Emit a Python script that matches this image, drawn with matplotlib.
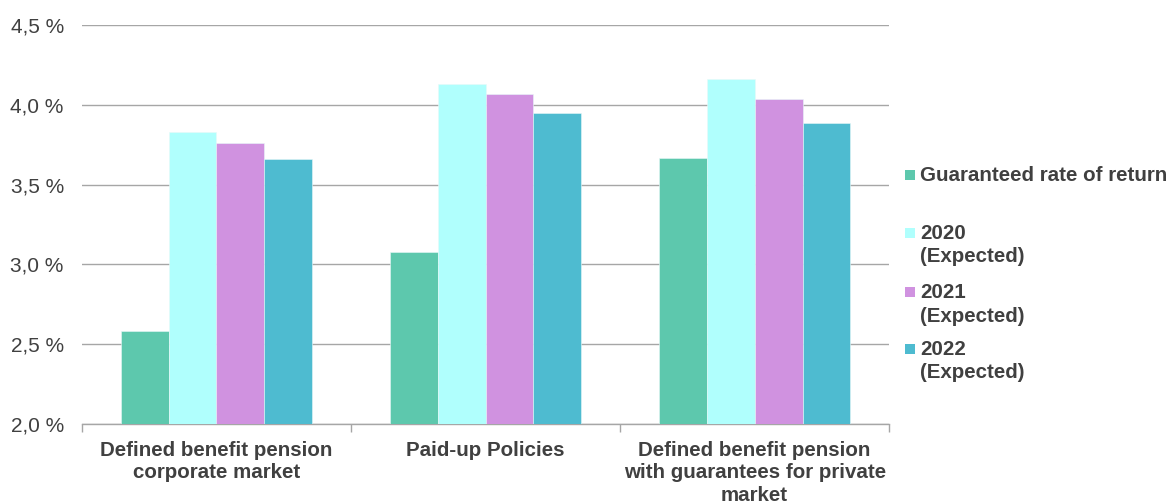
import matplotlib
matplotlib.use("Agg")
import matplotlib.pyplot as plt
import numpy as np
from matplotlib.patches import Rectangle
from matplotlib.ticker import FixedLocator

categories = ["Defined benefit pension\ncorporate market",
              "Paid-up Policies",
              "Defined benefit pension\nwith guarantees for private\nmarket"]
series_names = ["Guaranteed rate of return", "2020\n(Expected)", "2021\n(Expected)", "2022\n(Expected)"]
guaranteed = [2.58, 3.08, 3.67]
exp_2020 = [3.83, 4.13, 4.16]
exp_2021 = [3.76, 4.07, 4.04]
exp_2022 = [3.66, 3.95, 3.89]
yticks = [2.0, 2.5, 3.0, 3.5, 4.0, 4.5]
ytick_labels = ["2,0 %", "2,5 %", "3,0 %", "3,5 %", "4,0 %", "4,5 %"]
colors = ["#5DC8AD", "#B0FFFD", "#D092E0", "#4EBBD0"]

plt.rcParams['font.family'] = ['Liberation Sans', 'DejaVu Sans']

fig = plt.figure(figsize=(11.7, 5.04), dpi=100)
ax = fig.add_axes([0.070, 0.1587, 0.690, 0.7913])

series = [guaranteed, exp_2020, exp_2021, exp_2022]
x = np.arange(len(categories))
bw = 0.178
for i, vals in enumerate(series):
    offs = (i - 1.5) * bw
    ax.bar(x + offs, np.array(vals) - 2.0, bw, bottom=2.0, color=colors[i],
           edgecolor="#e8f8f8", linewidth=0.4, zorder=3)

ax.set_ylim(2.0, 4.5)
ax.set_xlim(-0.5, 2.5)
ax.set_yticks(yticks)
ax.set_yticklabels(ytick_labels, fontsize=15, color="#404040")
ax.tick_params(axis='y', length=0, pad=13)
ax.grid(axis='y', color="#a6a6a6", linewidth=1.0, zorder=0)
ax.set_axisbelow(True)

ax.xaxis.set_major_locator(FixedLocator([-0.5, 0.5, 1.5, 2.5]))
ax.set_xticklabels([])
ax.xaxis.set_minor_locator(FixedLocator(list(x)))
ax.set_xticklabels(categories, minor=True, fontsize=14.8, fontweight='bold',
                   color="#404040", linespacing=1.25)
ax.tick_params(axis='x', which='major', length=6, color="#a6a6a6", width=1)
ax.tick_params(axis='x', which='minor', length=0, pad=12)

for s in ["left", "right", "top"]:
    ax.spines[s].set_visible(False)
ax.spines["bottom"].set_color("#a6a6a6")
ax.spines["bottom"].set_linewidth(1.0)

# legend (manual, first line aligned with marker)
leg_y = [175, 233, 292, 349]
for i, name in enumerate(series_names):
    yp = 1 - leg_y[i] / 504
    fig.patches.append(Rectangle((905 / 1170, yp - 5 / 504), 10 / 1170, 10 / 504,
                                 transform=fig.transFigure, facecolor=colors[i],
                                 edgecolor='none'))
    fig.text(920 / 1170, yp + 9 / 504, name, fontsize=14.8, fontweight='bold',
             color="#404040", va='top', ha='left', linespacing=1.3)

fig.savefig("out.png", dpi=100)
